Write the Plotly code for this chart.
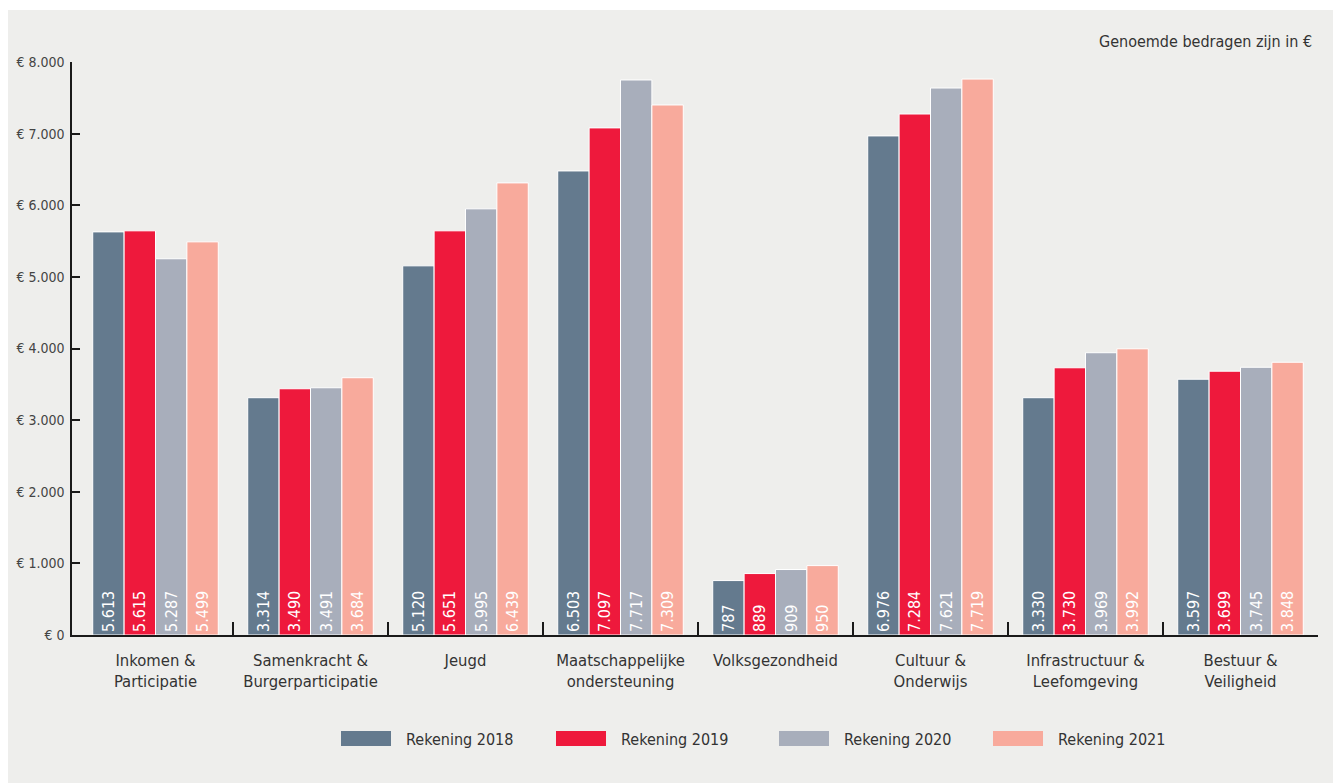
import plotly.graph_objects as go

# ---------------- data ----------------
categories = [
    "Inkomen &<br>Participatie",
    "Samenkracht &<br>Burgerparticipatie",
    "Jeugd",
    "Maatschappelijke<br>ondersteuning",
    "Volksgezondheid",
    "Cultuur &<br>Onderwijs",
    "Infrastructuur &<br>Leefomgeving",
    "Bestuur &<br>Veiligheid",
]
series = ["Rekening 2018", "Rekening 2019", "Rekening 2020", "Rekening 2021"]

# bar heights as drawn in the picture
heights_2018 = [5628, 3313, 5154, 6479, 760, 6968, 3313, 3571]
heights_2019 = [5643, 3438, 5643, 7080, 858, 7274, 3731, 3683]
heights_2020 = [5253, 3452, 5950, 7749, 914, 7637, 3941, 3738]
heights_2021 = [5489, 3592, 6312, 7400, 969, 7762, 3996, 3808]

# printed value labels
labels_2018 = ["5.613", "3.314", "5.120", "6.503", "787", "6.976", "3.330", "3.597"]
labels_2019 = ["5.615", "3.490", "5.651", "7.097", "889", "7.284", "3.730", "3.699"]
labels_2020 = ["5.287", "3.491", "5.995", "7.717", "909", "7.621", "3.969", "3.745"]
labels_2021 = ["5.499", "3.684", "6.439", "7.309", "950", "7.719", "3.992", "3.848"]

y_tickvals = [0, 1000, 2000, 3000, 4000, 5000, 6000, 7000, 8000]
y_ticktext = ["€ 0", "€ 1.000", "€ 2.000", "€ 3.000", "€ 4.000",
              "€ 5.000", "€ 6.000", "€ 7.000", "€ 8.000"]
note_text = "Genoemde bedragen zijn in €"

# ---------------- style ----------------
colors = ["#647A8E", "#EE193C", "#A8AEBB", "#F8AA9C"]
FONT = "DejaVu Sans Condensed, DejaVu Sans, sans-serif"
BG = "#EEEEEC"
TXT = "#333333"
W, H = 1333, 783
ML, MR, MT, MB = 72, 15, 62, 148
PW = W - ML - MR
PH = H - MT - MB


def px2x(px):
    return (px - ML) / PW


def px2y(py):
    return (H - MB - py) / PH


heights = [heights_2018, heights_2019, heights_2020, heights_2021]
labels = [labels_2018, labels_2019, labels_2020, labels_2021]

fig = go.Figure()
for name, h, lbl, c in zip(series, heights, labels, colors):
    fig.add_trace(go.Bar(
        name=name, x=categories, y=h, text=lbl,
        textposition="inside", insidetextanchor="start", textangle=-90,
        textfont=dict(color="white", size=16, family=FONT),
        marker=dict(color=c, line=dict(color="white", width=1)),
        showlegend=False, hoverinfo="skip",
    ))

# helper empty trace for the boundary-tick axis
fig.add_trace(go.Scatter(x=[], y=[], xaxis="x2", yaxis="y",
                         showlegend=False, hoverinfo="skip"))

xmin = -0.5 - 6 / 155.0
xmax = len(categories) - 0.5

fig.update_layout(
    width=W, height=H, autosize=False,
    margin=dict(l=ML, r=MR, t=MT, b=MB, pad=0, autoexpand=False),
    paper_bgcolor="white", plot_bgcolor="rgba(0,0,0,0)",
    barmode="group", bargap=0.19, bargroupgap=0,
    font=dict(family=FONT, color=TXT),
    xaxis=dict(
        type="category", range=[xmin, xmax], automargin=False,
        showline=True, linecolor="#1a1a1a", linewidth=1.5,
        ticks="", showgrid=False, zeroline=False,
        tickfont=dict(size=16.5, color=TXT, family=FONT),
        ticklabelstandoff=9,
    ),
    xaxis2=dict(
        type="linear", overlaying="x", anchor="y", side="bottom",
        range=[xmin, xmax], automargin=False,
        tickmode="array", tickvals=[i + 0.5 for i in range(len(categories))],
        ticks="inside", ticklen=13, tickwidth=1.5, tickcolor="#1a1a1a",
        showticklabels=False, showgrid=False, zeroline=False, showline=False,
    ),
    yaxis=dict(
        range=[0, 8000], tickmode="array", automargin=False,
        tickvals=y_tickvals, ticktext=y_ticktext,
        ticks="inside", ticklen=8, tickwidth=1.5, tickcolor="#1a1a1a",
        showline=True, linecolor="#1a1a1a", linewidth=1.5,
        showgrid=False, zeroline=False,
        tickfont=dict(size=14, color="#444444", family=FONT),
        ticklabelstandoff=3,
    ),
)

shapes = [
    # grey panel background
    dict(type="rect", xref="paper", yref="paper", layer="below",
         x0=px2x(8), x1=px2x(W + 5), y0=px2y(H + 5), y1=px2y(10),
         fillcolor=BG, line=dict(width=0)),
]
annotations = [
    dict(text=note_text, xref="paper", yref="paper",
         x=px2x(1314), y=px2y(42), xanchor="right", yanchor="middle",
         showarrow=False, font=dict(size=16, color=TXT, family=FONT)),
]

# custom legend with wide swatches
legend_left = [341, 556, 779, 993]
for name, c, lx in zip(series, colors, legend_left):
    shapes.append(dict(type="rect", xref="paper", yref="paper",
                       x0=px2x(lx), x1=px2x(lx + 50),
                       y0=px2y(746), y1=px2y(731),
                       fillcolor=c, line=dict(width=0)))
    annotations.append(dict(text=name, xref="paper", yref="paper",
                            x=px2x(lx + 63), y=px2y(739),
                            xanchor="left", yanchor="middle", showarrow=False,
                            font=dict(size=16, color=TXT, family=FONT)))

fig.update_layout(shapes=shapes, annotations=annotations)

fig.write_html(
    "out.html",
    config={"displayModeBar": False},
    post_script="document.body.style.margin='0';document.body.style.overflow='hidden';",
)
